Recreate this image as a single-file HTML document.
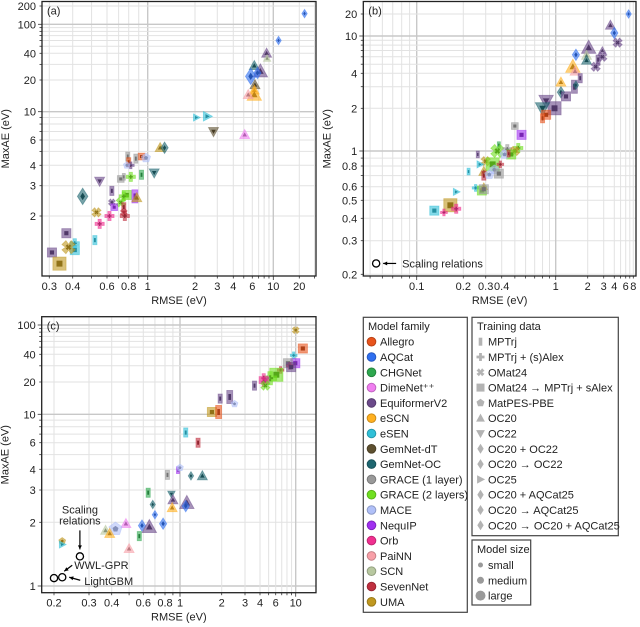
<!DOCTYPE html>
<html><head><meta charset="utf-8">
<style>
body{margin:0;background:#fff;}
svg{display:block;font-family:"Liberation Sans",sans-serif;}
</style></head>
<body>
<svg id="fig" width="640" height="627" viewBox="0 0 640 627" xmlns="http://www.w3.org/2000/svg"></svg>
<script>
// ---------- data ----------
const families = ["Allegro","AQCat","CHGNet","DimeNet\u207A\u207A","EquiformerV2","eSCN","eSEN","GemNet-dT","GemNet-OC","GRACE (1 layer)","GRACE (2 layers)","MACE","NequIP","Orb","PaiNN","SCN","SevenNet","UMA"];
const familyColors = ["#e8541c","#2f6ff0","#2ea84f","#f07ef0","#6b4a8a","#ffb020","#30c0d8","#5e5030","#1e6670","#999999","#70e020","#b0c0f8","#a030f0","#f03090","#f8a0a8","#b8c8a0","#c03040","#c09820"];
const trainingData = ["MPTrj","MPTrj + (s)Alex","OMat24","OMat24 \u2192 MPTrj + sAlex","MatPES-PBE","OC20","OC22","OC20 + OC22","OC20 \u2192 OC22","OC25","OC20 + AQCat25","OC20 \u2192 AQCat25","OC20 \u2192 OC20 + AQCat25"];
const trainingMarks = "RPXSHTVDDEDDD";
const sizeNames = ["small","medium","large"];

// panel a
const rmseA = [23,11.5,8.5,8.6,6.3,7.3,5.8,6.8,6.4,6.3,6.3,5.5,2.05,2.5,2.8,5.1,1.2,1.28,0.79,0.93,0.98,0.87,0.8,0.82,0.78,0.93,1.1,0.72,0.75,0.82,0.55,0.45,0.64,0.78,0.75,0.86,0.88,0.72,0.64,0.66,0.75,0.75,0.76,0.62,0.53,0.55,0.37,0.41,0.41,0.52,0.38,0.31,0.34];
const maxaeA = [150,60,40,35,29,25,22,24,18,16,14.5,14.5,9,9.2,7,6.6,5.3,5.3,4.6,4.6,4.5,4.45,4.2,4.0,4.0,3.5,3.6,3.3,3.4,3.4,3.2,2.6,2.8,2.65,2.6,2.6,2.55,2.4,2.4,2.25,2.25,2.1,2.0,2.0,2.1,1.8,1.59,1.39,1.27,1.45,1.32,1.23,1.06];
const famA = [1,1,4,15,8,4,1,1,7,5,5,14,6,6,7,3,17,8,9,0,11,9,0,4,11,2,8,9,9,10,4,8,4,10,10,12,17,10,4,12,16,16,16,13,17,13,4,6,6,6,17,4,17];
const markA = "DDTTTTDDTTTTEEVTTDRSHRRPHRVSRPVDRSPRTXXSRXPPXPSPSRXSS";
const sizeA = "00101221112101111110111001100112111211001011111111212".split("").map(Number);

// panel b
const rmseB = [6.7,3.6,4.0,4.5,2.05,2.9,1.55,2.9,2.6,1.95,1.95,1.45,2.45,1.52,1.12,1.7,1.12,1.5,1.55,1.25,0.85,0.98,0.8,0.85,0.8,0.5,0.56,0.38,0.53,0.26,0.37,0.44,0.5,0.47,0.42,0.45,0.3,0.27,0.34,0.39,0.35,0.29,0.22,0.29,0.38,0.32,0.25,0.28,0.29,0.29,0.18,0.165,0.18,0.15,0.13];
const maxaeB = [20,14,11,8.5,7.5,7.0,6.3,6.0,5.6,6.2,5.5,4.7,4.7,4.2,3.3,3.6,2.7,3.0,3.1,2.5,2.3,2.0,2.0,1.8,1.7,1.5,1.3,1.1,1.05,0.95,1.0,1.03,1.0,0.95,0.95,0.96,0.86,0.82,0.82,0.82,0.76,0.74,0.74,0.7,0.72,0.71,0.59,0.57,0.6,0.58,0.56,0.47,0.45,0.43,0.44];
const famB = [1,4,1,4,4,4,1,4,4,15,8,5,4,14,5,4,8,4,8,4,4,4,8,0,0,9,12,2,10,4,10,9,17,10,11,16,17,6,10,16,11,17,6,16,9,11,6,10,17,9,6,17,13,13,6];
const markB = "DTDXTTDXRTTTXTTRDRDSVSVSRSSRPRXPXSHRXESPHTRRSHPSTSESPPS";
const sizeB = "0111201111121111120122211010102111101020110111010102101".split("").map(Number);

// panel c
const rmseC = [10,12,9.5,9.9,8.2,8.6,8.9,6.8,6.1,5.2,4.6,4.4,4.4,4.6,3.6,1.95,2.3,2.5,1.7,1.9,1.1,1.35,0.97,1.0,0.83,1.2,1.45,0.64,0.88,0.9,0.89,1.12,1.1,0.68,0.7,0.78,0.48,0.59,0.65,0.42,0.37,0.39,0.57,0.22,0.22,0.5];
const maxaeC = [85,48,39,32,32,30,29,27,24,22,21,22,20,18.5,18.5,14,14.5,12.5,10.5,10.5,7.2,6.0,3.95,4.1,3.7,3.65,3.65,2.9,2.85,2.65,2.4,2.55,2.45,2.5,2.2,1.97,1.97,1.93,1.9,1.86,1.83,1.77,1.72,1.63,1.57,1.5];
const famC = [17,0,6,12,9,16,4,16,10,10,9,13,13,10,4,4,4,11,17,0,6,16,12,11,9,8,8,2,8,4,5,4,1,8,1,1,3,1,4,11,15,5,2,17,6,14];
const markC = "XSPSSPSPSPXPPXRRRHSRRRRHRDTRVTTTDDDDTDTHTTRHET";
const sizeC = "0101101022111111201211001011011210011122111001".split("").map(Number);

// scaling relations (baseline models)
const scaleRmseB = [0.0547];
const scaleMaxB = [0.228];
const scaleRmseC = [0.27,0.2,0.22];
const scaleMaxC = [1.38,1.09,1.1];

// axis tick labels
const xTicksA = [0.3,0.4,0.6,0.8,1,2,3,4,6,10,20];
const yTicksA = [2,3,4,6,10,20,40,100,200];
const xTicksB = [0.1,0.2,0.3,0.4,1,2,3,4,6,8];
const yTicksB = [0.2,0.3,0.4,0.5,0.6,0.8,1,2,4,10,20];
const xTicksC = [0.2,0.3,0.4,0.6,0.8,1,2,3,4,6,10];
const yTicksC = [1,2,3,4,6,10,20,40,100];

// ---------- helpers ----------
const NS="http://www.w3.org/2000/svg";
const svg=document.getElementById("fig");
function el(tag,attrs,parent){const e=document.createElementNS(NS,tag);for(const k in attrs)e.setAttribute(k,attrs[k]);(parent||svg).appendChild(e);return e;}
function makeScale(knots){
  const L=knots.map(k=>[Math.log10(k[0]),k[1]]);
  return function(v){
    const l=Math.log10(v);
    let i=0;
    if(l<=L[0][0]) i=0; else if(l>=L[L.length-1][0]) i=L.length-2;
    else {while(l>L[i+1][0]) i++;}
    const a=L[i],b=L[i+1];
    return a[1]+(l-a[0])*(b[1]-a[1])/(b[0]-a[0]);
  };
}
function darken(hex,f){const n=parseInt(hex.slice(1),16);let r=(n>>16)&255,g=(n>>8)&255,b=n&255;r=Math.round(r*f);g=Math.round(g*f);b=Math.round(b*f);return `rgb(${r},${g},${b})`;}
function shapePath(code,cx,cy,r){
  const p=(pts)=>"M"+pts.map(q=>(cx+q[0]*r).toFixed(2)+","+(cy+q[1]*r).toFixed(2)).join("L")+"Z";
  switch(code){
    case "R": return p([[-0.45,-1],[0.45,-1],[0.45,1],[-0.45,1]]);
    case "S": return p([[-1,-1],[1,-1],[1,1],[-1,1]]);
    case "T": return p([[0,-1.15],[1.1,0.85],[-1.1,0.85]]);
    case "V": return p([[0,1.15],[1.1,-0.85],[-1.1,-0.85]]);
    case "E": return p([[1.15,0],[-0.85,1.05],[-0.85,-1.05]]);
    case "D": return p([[0,-1.25],[0.8,0],[0,1.25],[-0.8,0]]);
    case "P": return p([[-0.35,-1],[0.35,-1],[0.35,-0.35],[1,-0.35],[1,0.35],[0.35,0.35],[0.35,1],[-0.35,1],[-0.35,0.35],[-1,0.35],[-1,-0.35],[-0.35,-0.35]]);
    case "X": {const a=0.3,b=1;return p([[-a-0.1,-b],[0,-0.45],[a+0.1,-b],[b,-a-0.1],[0.45,0],[b,a+0.1],[a+0.1,b],[0,0.45],[-a-0.1,b],[-b,a+0.1],[-0.45,0],[-b,-a-0.1]]);}
    case "H": {const pts=[];for(let i=0;i<5;i++){const t=-Math.PI/2+i*2*Math.PI/5;pts.push([Math.cos(t)*1.05,Math.sin(t)*1.05]);}return p(pts);}
  }
  return p([[-1,-1],[1,-1],[1,1],[-1,1]]);
}
const sizeR=[3.4,4.6,6.6];

function panel(cfg){
  const g=el("g",{});
  
  
  const sx=makeScale(cfg.xKnots), sy=makeScale(cfg.yKnots);
  const {x0,x1,y0,y1}=cfg.box;
  const yMin=cfg.yGridMin||0;
  const grid=el("g",{},g);
  
  
  const ticks=el("g",{},g);
  for(let k=-3;k<=3;k++){
    for(let m=1;m<=9;m++){
      const v=m*Math.pow(10,k);
      const X=sx(v);
      if(X>x0+0.5&&X<x1-0.5){
        el("line",{x1:X,x2:X,y1:y0,y2:y1,stroke:m==1?"#c8c8c8":"#e2e2e2","stroke-width":m==1?1.4:1},grid);
        el("line",{x1:X,x2:X,y1:y1,y2:y1+(m==1?4:2.5),stroke:"#333","stroke-width":0.8},ticks);
      }
      const Y=sy(v);
      if(v>=yMin&&Y>y0+0.5&&Y<y1-0.5){
        el("line",{x1:x0,x2:x1,y1:Y,y2:Y,stroke:m==1?"#c8c8c8":"#e2e2e2","stroke-width":m==1?1.4:1},grid);
        el("line",{x1:x0-(m==1?4:2.5),x2:x0,y1:Y,y2:Y,stroke:"#333","stroke-width":0.8},ticks);
      }
    }
  }
  cfg.xTicks.forEach(v=>{const t=el("text",{x:sx(v),y:y1+14,"text-anchor":"middle","font-size":11,fill:"#222"},g);t.textContent=String(v);
    
    });
  cfg.yTicks.forEach(v=>{const t=el("text",{x:x0-6,y:sy(v)+4,"text-anchor":"end","font-size":11,fill:"#222"},g);t.textContent=String(v);
    
    });
  const pts=el("g",{},g);
  
  
  for(let i=0;i<cfg.xs.length;i++){
    const X=sx(cfg.xs[i]),Y=sy(cfg.ys[i]),r=sizeR[cfg.size[i]],c=familyColors[cfg.fam[i]];
    const outer=el("path",{d:shapePath(cfg.mark[i],X,Y,r),fill:c,"fill-opacity":0.6,stroke:c,"stroke-opacity":0.5,"stroke-width":0.8},pts);
    
    
    el("path",{d:shapePath(cfg.mark[i],X,Y,r*0.45),fill:darken(c,0.75)},pts);
  }
  (cfg.scaleX||[]).forEach((v,i)=>{
    const ci=el("circle",{cx:sx(v),cy:sy(cfg.scaleY[i]),r:3.6,fill:"none",stroke:"#000","stroke-width":1.3},g);
    
    
  });
  const fr=el("rect",{x:x0,y:y0,width:x1-x0,height:y1-y0,fill:"none",stroke:"#222","stroke-width":1.3},g);
  
  
  const pl=el("text",{x:x0+5,y:y0+13,"font-size":11,fill:"#222"},g);pl.textContent=cfg.label;
  
  
  const xt=el("text",{x:(x0+x1)/2,y:y1+28,"text-anchor":"middle","font-size":11,fill:"#222"},g);xt.textContent="RMSE (eV)";
  
  
  const yc=(y0+y1)/2, yx=x0-33;
  const yt=el("text",{x:yx,y:yc,"text-anchor":"middle","font-size":11,fill:"#222",transform:`rotate(-90 ${yx} ${yc})`},g);yt.textContent="MaxAE (eV)";
  
  
  return {sx,sy,g};
}

panel({name:"panel-a",label:"(a)",box:{x0:42,x1:316,y0:1.5,y1:276},yGridMin:2,
  xKnots:[[0.3,49.3],[0.4,72.7],[0.6,107],[0.8,128.7],[1,147.7],[2,195],[3,217.3],[4,233.3],[6,252.3],[10,273.3],[20,299.3]],
  yKnots:[[1,268],[2,216],[3,185.7],[4,165.3],[6,140],[10,111.7],[20,80],[40,53.3],[100,24.3],[200,6]],
  xTicks:xTicksA,yTicks:yTicksA,xs:rmseA,ys:maxaeA,fam:famA,mark:markA,size:sizeA});

const pb=panel({name:"panel-b",label:"(b)",box:{x0:363.3,x1:636,y0:1.5,y1:276},
  xKnots:[[0.1,416.7],[0.2,463.3],[0.3,485.7],[0.4,501.7],[1,555.7],[2,587.7],[3,603.7],[4,614.3],[6,625.7],[8,633.3]],
  yKnots:[[0.2,274.3],[0.3,240.7],[0.4,218.3],[0.5,200.3],[0.6,186.7],[0.8,166],[1,151],[2,108.3],[3,86.7],[4,73.3],[10,36],[20,14]],
  xTicks:xTicksB,yTicks:yTicksB,xs:rmseB,ys:maxaeB,fam:famB,mark:markB,size:sizeB,scaleX:scaleRmseB,scaleY:scaleMaxB});

const pc=panel({name:"panel-c",label:"(c)",box:{x0:41.7,x1:316,y0:316.7,y1:592.7},
  xKnots:[[0.2,54],[0.3,89],[0.4,111.7],[0.6,143.3],[0.8,165],[1,180],[2,221.7],[3,245],[4,260],[6,275.7],[10,295.7]],
  yKnots:[[1,586],[2,522.3],[3,490],[4,469.3],[6,442.7],[10,414.3],[20,382],[40,354.3],[100,325]],
  xTicks:xTicksC,yTicks:yTicksC,xs:rmseC,ys:maxaeC,fam:famC,mark:markC,size:sizeC,scaleX:scaleRmseC,scaleY:scaleMaxC});

function arrow(x1,y1,x2,y2,name){
  const g=el("g",{});
  
  
  el("line",{x1,y1,x2,y2,stroke:"#000","stroke-width":1.2},g);
  const a=Math.atan2(y2-y1,x2-x1),h=4.5;
  el("path",{d:`M${x2},${y2}L${x2-h*Math.cos(a-0.45)},${y2-h*Math.sin(a-0.45)}L${x2-h*Math.cos(a+0.45)},${y2-h*Math.sin(a+0.45)}Z`,fill:"#000"},g);
}
function label(x,y,txt,anchor,name){const t=el("text",{x,y,"font-size":11,fill:"#222","text-anchor":anchor||"start"});t.textContent=txt;
  
  }
{
  const bx=pb.sx(scaleRmseB[0]),by=pb.sy(scaleMaxB[0]);
  arrow(bx+20,by,bx+7,by,'scaling-arrow-b');
  label(bx+26,by+4,"Scaling relations","start",'scaling-label-b');
  const cx0=pc.sx(scaleRmseC[0]),cy0=pc.sy(scaleMaxC[0]);
  label(cx0,cy0-43,"Scaling","middle",'scaling-label-c');
  label(cx0,cy0-32,"relations","middle",'scaling-label-c2');
  arrow(cx0,cy0-26,cx0,cy0-7,'scaling-arrow-c');
  const wx=pc.sx(scaleRmseC[2]),wy=pc.sy(scaleMaxC[2]);
  arrow(wx+10,wy-12,wx+2,wy-6,'wwl-arrow');
  label(wx+12,wy-8,"WWL-GPR","start",'wwl-gpr-label');
  arrow(wx+18,wy+3,wx+7,wy,'lightgbm-arrow');
  label(wx+22,wy+8,"LightGBM","start",'lightgbm-label');
}

function box(x,y,w,h,name){const r=el("rect",{x,y,width:w,height:h,fill:"#fff",stroke:"#444","stroke-width":1.2});}
box(363.3,317.3,104,295,'legend-model-family');
label(368,330,"Model family","start",'legend-title-family');
families.forEach((f,i)=>{
  const y=341.7+i*15.3;
  const c=el("circle",{cx:371.5,cy:y,r:4.3,fill:familyColors[i],stroke:darken(familyColors[i],0.8),"stroke-width":1});
  
  
  label(380,y+4,f,"start",'legend-entry');
});
box(472,317.3,146.3,218.4,'legend-training-data');
label(477,330,"Training data","start",'legend-title-training');
trainingData.forEach((t,i)=>{
  const y=341.7+i*15.3;
  const m=el("path",{d:shapePath(trainingMarks[i],480.5,y,4),fill:"#9a9a9a","fill-opacity":0.75});
  
  
  label(488,y+4,t,"start",'legend-entry');
});
box(472,540,58.7,65,'legend-model-size');
label(477,553,"Model size","start",'legend-title-size');
sizeNames.forEach((s,i)=>{
  const y=565+i*15.3;
  const c=el("circle",{cx:480.5,cy:y,r:[2.5,3.5,5][i],fill:"#9a9a9a"});
  
  
  label(488,y+4,s,"start",'legend-entry');
});
</script>
</body></html>
